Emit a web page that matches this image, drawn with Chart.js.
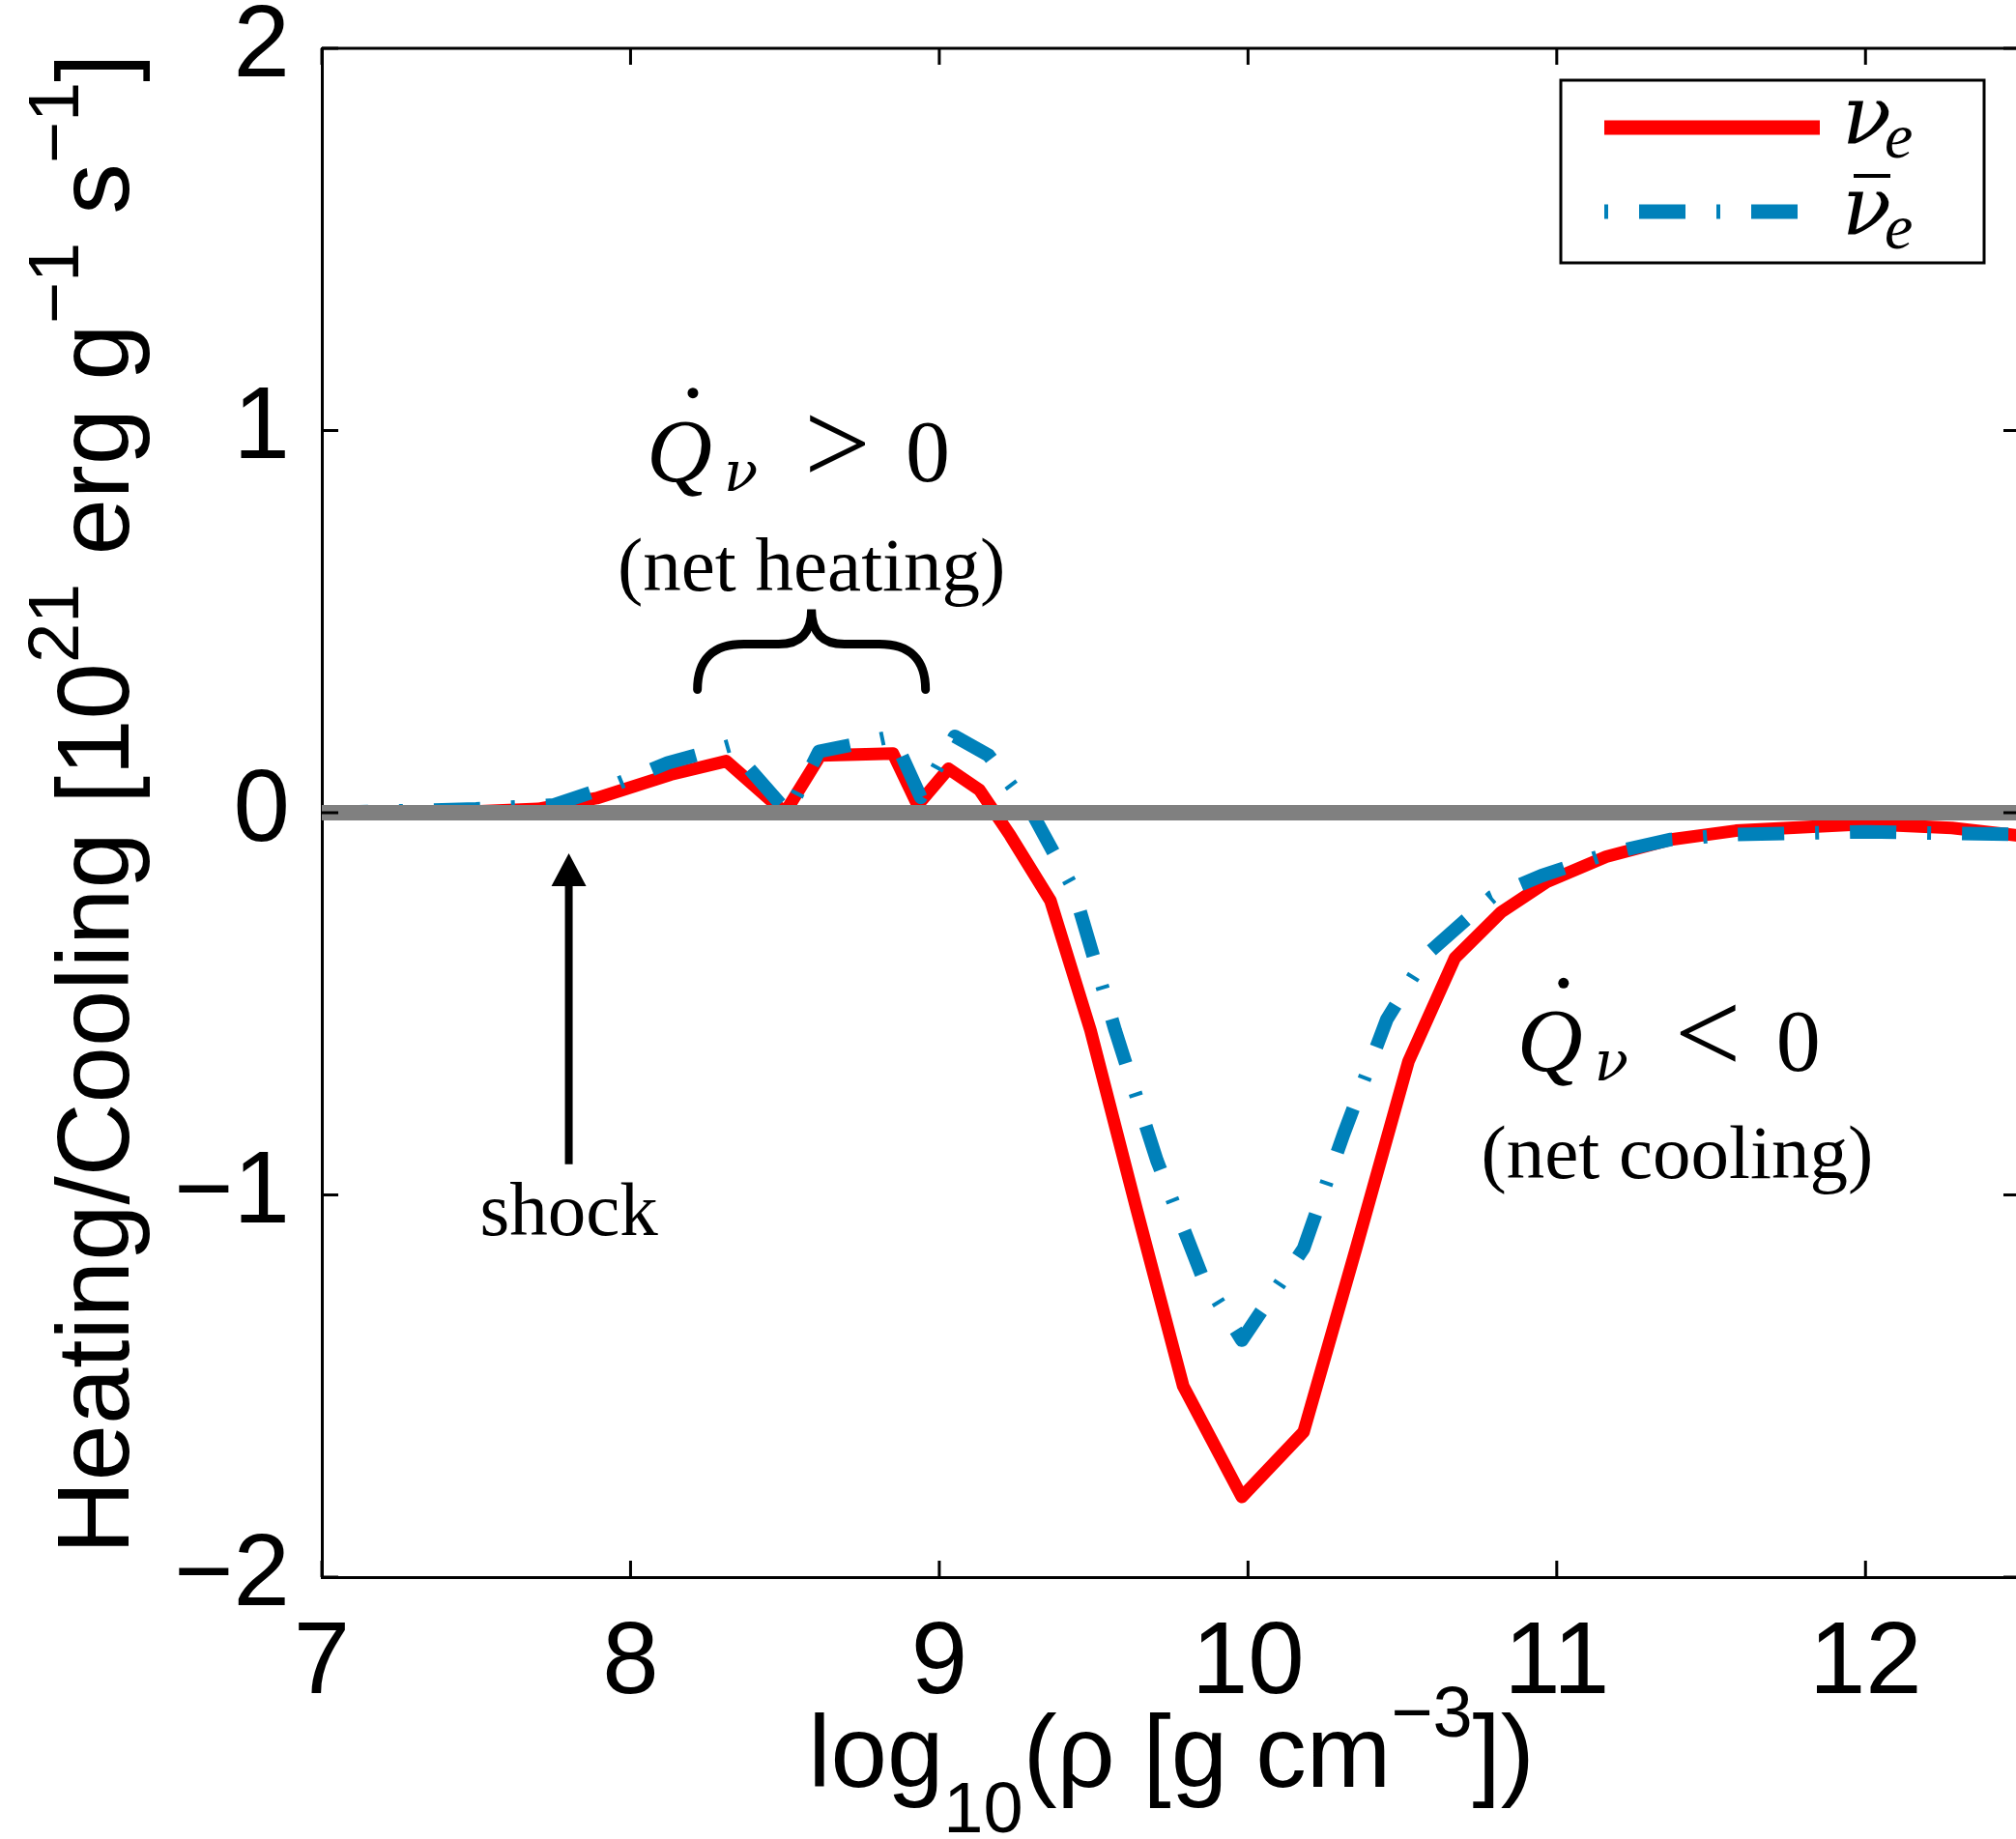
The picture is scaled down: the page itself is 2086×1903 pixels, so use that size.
<!DOCTYPE html>
<html>
<head>
<meta charset="utf-8">
<script src="https://cdn.jsdelivr.net/npm/chart.js@4.4.1/dist/chart.umd.min.js"></script>
<style>
  html, body { margin: 0; padding: 0; background: #fff; overflow: hidden; }
  #wrap { width: 2090px; height: 1903px; }
</style>
</head>
<body>
<div id="wrap"><canvas id="heatChart" width="2090" height="1903"></canvas></div>
<script>
// log10(rho) and net heating/cooling (units of 1e21 erg/g/s)
const nueX = [7.0, 7.4, 7.7, 7.89, 8.13, 8.31, 8.50, 8.615, 8.85, 8.93, 9.03, 9.13, 9.23, 9.36, 9.49, 9.64, 9.79, 9.98, 10.18, 10.35, 10.52, 10.67, 10.82, 10.97, 11.16, 11.37, 11.58, 12.0, 12.28, 12.5];
const nueY = [0.0, 0.0, 0.01, 0.038, 0.10, 0.135, 0.0, 0.15, 0.155, 0.02, 0.115, 0.06, -0.06, -0.23, -0.57, -1.04, -1.50, -1.79, -1.62, -1.14, -0.65, -0.38, -0.26, -0.18, -0.115, -0.07, -0.047, -0.03, -0.04, -0.06];

const nuebX = [7.0, 7.5, 7.75, 7.96, 8.12, 8.32, 8.51, 8.61, 8.85, 8.94, 9.05, 9.16, 9.30, 9.435, 9.57, 9.705, 9.85, 9.98, 10.18, 10.31, 10.45, 10.58, 10.79, 10.95, 11.16, 11.37, 11.58, 12.0, 12.5];
const nuebY = [0.0, 0.01, 0.02, 0.077, 0.13, 0.175, 0.0, 0.16, 0.2, 0.04, 0.2, 0.15, 0.0, -0.2, -0.57, -0.91, -1.21, -1.38, -1.14, -0.84, -0.54, -0.37, -0.22, -0.165, -0.108, -0.07, -0.057, -0.05, -0.057];

const zeroX = [7, 12.5];
const zeroY = [0, 0];

const xTicks = [7, 8, 9, 10, 11, 12];
const yTicks = [-2, -1, 0, 1, 2];

const RED = '#ff0000';
const BLUE = '#0081ba';
const GRAY = '#808080';
const BLUE_DASH = [48, 32, 4, 32];
const SANS = '"Liberation Sans", Arial, Helvetica, sans-serif';
const SERIF = '"Liberation Serif", "Times New Roman", serif';
const GREEK = '"DejaVu Serif", "Liberation Serif", serif';

const pts = (xs, ys) => xs.map((v, i) => ({ x: v, y: ys[i] }));
const fmt = v => String(v).replace('-', '\u2212');

// text with sub/superscripts, centred on cx; kind 1 = sup, -1 = sub
function richText(ctx, parts, cx, base, size) {
  const small = Math.round(size * 0.7);
  const fontFor = k => (k ? small : size) + 'px ' + SANS;
  let w = 0;
  parts.forEach(([t, k]) => { ctx.font = fontFor(k); w += ctx.measureText(t).width; });
  let xx = cx - w / 2;
  parts.forEach(([t, k]) => {
    ctx.font = fontFor(k);
    const dy = k === 1 ? -size * 0.5 : (k === -1 ? size * 0.45 : 0);
    ctx.fillText(t, xx, base + dy);
    xx += ctx.measureText(t).width;
  });
}

// Qdot_nu > 0 style label, left edge at px
function drawQ(ctx, left, base, sign) {
  ctx.font = 'italic 94px ' + SERIF;
  ctx.fillText('Q', left, base);
  ctx.beginPath();
  ctx.arc(left + 48, base - 91, 5.5, 0, Math.PI * 2);
  ctx.fill();
  ctx.font = 'italic 58px ' + GREEK;
  ctx.fillText('\u03bd', left + 80, base + 10);
  ctx.font = '122px ' + SERIF;
  ctx.fillText(sign, left + 163, base + 2);
  ctx.font = '92px ' + SERIF;
  ctx.fillText('0', left + 268, base);
}

const decor = {
  id: 'decor',
  afterDatasetsDraw(chart) {
    const { ctx, chartArea: a, scales: { x, y } } = chart;
    ctx.save();
    ctx.strokeStyle = '#000';
    ctx.fillStyle = '#000';
    ctx.lineWidth = 3;
    ctx.setLineDash([]);

    // rest of the box
    ctx.beginPath();
    ctx.moveTo(a.left, a.top);
    ctx.lineTo(a.right, a.top);
    ctx.lineTo(a.right, a.bottom);
    ctx.stroke();

    // inward ticks on all sides
    const tl = 17;
    ctx.beginPath();
    xTicks.forEach(v => {
      const px = x.getPixelForValue(v);
      ctx.moveTo(px, a.bottom); ctx.lineTo(px, a.bottom - tl);
      ctx.moveTo(px, a.top); ctx.lineTo(px, a.top + tl);
    });
    yTicks.forEach(v => {
      const py = y.getPixelForValue(v);
      ctx.moveTo(a.left, py); ctx.lineTo(a.left + tl, py);
      ctx.moveTo(a.right, py); ctx.lineTo(a.right - tl, py);
    });
    ctx.stroke();

    // shock arrow
    const sx = x.getPixelForValue(7.8);
    const tipY = y.getPixelForValue(-0.106);
    const tailY = y.getPixelForValue(-0.92);
    ctx.lineWidth = 8;
    ctx.beginPath();
    ctx.moveTo(sx, tailY); ctx.lineTo(sx, tipY + 25);
    ctx.stroke();
    ctx.beginPath();
    ctx.moveTo(sx, tipY);
    ctx.lineTo(sx - 18, tipY + 34);
    ctx.lineTo(sx + 18, tipY + 34);
    ctx.closePath();
    ctx.fill();

    ctx.textAlign = 'center';
    ctx.textBaseline = 'alphabetic';
    ctx.font = '79px ' + SERIF;
    ctx.fillText('shock', sx, y.getPixelForValue(-1.106));
    ctx.fillText('(net heating)', x.getPixelForValue(8.586), y.getPixelForValue(0.582));
    ctx.fillText('(net cooling)', x.getPixelForValue(11.39), y.getPixelForValue(-0.957));

    // brace over the heating region
    const bx = x.getPixelForValue(8.586);
    const by = y.getPixelForValue(0.532);
    ctx.lineWidth = 9;
    ctx.lineCap = 'round';
    ctx.beginPath();
    ctx.moveTo(bx - 118, by + 83);
    ctx.quadraticCurveTo(bx - 118, by + 36, bx - 70, by + 36);
    ctx.lineTo(bx - 34, by + 36);
    ctx.quadraticCurveTo(bx, by + 36, bx, by);
    ctx.quadraticCurveTo(bx, by + 36, bx + 34, by + 36);
    ctx.lineTo(bx + 70, by + 36);
    ctx.quadraticCurveTo(bx + 118, by + 36, bx + 118, by + 83);
    ctx.stroke();

    ctx.textAlign = 'left';
    drawQ(ctx, x.getPixelForValue(8.54) - 156, y.getPixelForValue(0.868), '>');
    drawQ(ctx, x.getPixelForValue(11.36) - 156, y.getPixelForValue(-0.676), '<');
    ctx.restore();
  },
  afterDraw(chart) {
    const { ctx } = chart;
    ctx.save();
    ctx.fillStyle = '#000';
    ctx.textBaseline = 'alphabetic';
    ctx.textAlign = 'left';

    // axis titles
    richText(ctx, [['log', 0], ['10', -1], ['(\u03c1 [g cm', 0], ['\u22123', 1], ['])', 0]], 1212, 1849, 105);
    ctx.save();
    ctx.translate(133, 832);
    ctx.rotate(-Math.PI / 2);
    richText(ctx, [['Heating/Cooling [10', 0], ['21', 1], [' erg g', 0], ['\u22121', 1], [' s', 0], ['\u22121', 1], [']', 0]], 0, 0, 105);
    ctx.restore();

    // legend
    ctx.fillStyle = '#fff';
    ctx.fillRect(1615, 83, 438, 189);
    ctx.strokeStyle = '#000';
    ctx.lineWidth = 3;
    ctx.strokeRect(1615, 83, 438, 189);
    ctx.lineCap = 'butt';
    ctx.lineWidth = 15;
    ctx.strokeStyle = RED;
    ctx.beginPath(); ctx.moveTo(1660, 132); ctx.lineTo(1883, 132); ctx.stroke();
    ctx.strokeStyle = BLUE;
    ctx.setLineDash(BLUE_DASH);
    ctx.lineDashOffset = 80;
    ctx.beginPath(); ctx.moveTo(1660, 219); ctx.lineTo(1860, 219); ctx.stroke();
    ctx.setLineDash([]);

    ctx.fillStyle = '#000';
    ctx.font = 'italic 84px ' + GREEK;
    ctx.fillText('\u03bd', 1906, 148);
    ctx.fillText('\u03bd', 1906, 242);
    ctx.font = 'italic 66px ' + SERIF;
    ctx.fillText('e', 1950, 163);
    ctx.fillText('e', 1950, 257);
    ctx.fillRect(1918, 180, 38, 4);
    ctx.restore();
  }
};

new Chart(document.getElementById('heatChart').getContext('2d'), {
  type: 'line',
  data: {
    datasets: [
      { label: 'zero', data: pts(zeroX, zeroY), borderColor: GRAY, borderWidth: 16, order: 0 },
      { label: '\u03bd\u0304e', data: pts(nuebX, nuebY), borderColor: BLUE, borderWidth: 14, borderDash: BLUE_DASH, order: 1 },
      { label: '\u03bde', data: pts(nueX, nueY), borderColor: RED, borderWidth: 13, order: 2 }
    ]
  },
  options: {
    responsive: false,
    animation: false,
    elements: {
      point: { radius: 0 },
      line: { tension: 0, borderJoinStyle: 'round', borderCapStyle: 'butt' }
    },
    layout: { padding: { top: 50, left: 0, right: 0, bottom: 0 } },
    plugins: { legend: { display: false }, tooltip: { enabled: false } },
    scales: {
      x: {
        type: 'linear',
        min: 7,
        max: 12.5,
        afterFit: s => { s.height = 271; },
        afterBuildTicks: s => { s.ticks = xTicks.map(v => ({ value: v })); },
        grid: { display: false },
        border: { display: true, color: '#000', width: 3 },
        ticks: { padding: 20, color: '#000', maxRotation: 0, autoSkip: false, font: { family: SANS, size: 105, lineHeight: 1.2 }, callback: fmt }
      },
      y: {
        type: 'linear',
        min: -2,
        max: 2,
        afterFit: s => { s.width = 333; },
        afterBuildTicks: s => { s.ticks = yTicks.map(v => ({ value: v })); },
        grid: { display: false },
        border: { display: true, color: '#000', width: 3 },
        ticks: { padding: 25, color: '#000', font: { family: SANS, size: 105, lineHeight: 0.4 }, callback: fmt }
      }
    }
  },
  plugins: [decor]
});
</script>
</body>
</html>
